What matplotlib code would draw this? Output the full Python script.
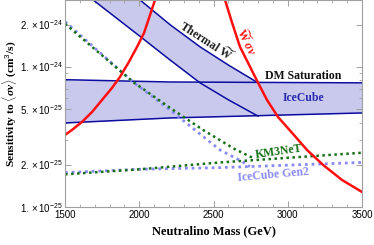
import numpy as np
import matplotlib
matplotlib.use('Agg')
import matplotlib.pyplot as plt
from matplotlib.ticker import FixedLocator, NullFormatter

plt.rcParams['mathtext.fontset'] = 'custom'
plt.rcParams['mathtext.rm'] = 'Liberation Sans'
plt.rcParams['mathtext.it'] = 'Liberation Serif:italic:bold'
plt.rcParams['mathtext.bf'] = 'Liberation Serif:bold'

# neutralino mass (GeV) vs sensitivity <sigma v> (cm^3/s)
ice_m = [1500, 2207, 3500]
ice_hi = [8.1e-25, 7.8e-25, 7.69e-25]
ice_lo = [3.98e-25, 4.32e-25, 4.69e-25]

th_m = [1500, 1689, 2005, 2207, 2409, 2600, 2800]
th_hi = [8.0e-24, 5.8e-24, 3.0e-24, 2.0e-24, 1.39e-24, 1.03e-24, 7.69e-25]
th_lo = [4.3e-24, 3.0e-24, 1.65e-24, 1.12e-24, 7.69e-25, 5.82e-25, 4.45e-25]

red1_m = [1500, 1547, 1614, 1682, 1749, 1816, 1870, 1931, 1985, 2032, 2066, 2106, 2126]
red1_v = [3.27e-25, 3.55e-25, 4.05e-25, 4.77e-25, 5.81e-25, 7.08e-25, 8.48e-25,
          1.09e-24, 1.39e-24, 1.75e-24, 2.24e-24, 3.01e-24, 3.55e-24]

red2_m = [2557, 2577, 2625, 2678, 2746, 2800, 2860, 2934, 3029, 3130, 3237, 3365, 3500]
red2_v = [3.55e-24, 3.01e-24, 2.06e-24, 1.39e-24, 1.0e-24, 7.69e-25, 5.81e-25,
          4.39e-25, 3.38e-25, 2.55e-25, 2.0e-25, 1.56e-25, 1.28e-25]

km3_dn_m = [1500, 1958, 2207, 2429, 2640, 2780]
km3_dn_v = [2.03e-24, 7.81e-25, 5.1e-25, 3.55e-25, 2.6e-25, 2.2e-25]
km3_up_m = [1500, 2005, 2544, 3500]
km3_up_v = [1.71e-25, 1.86e-25, 2.08e-25, 2.44e-25]

gen2_dn_m = [1500, 1958, 2207, 2544, 2690, 2745]
gen2_dn_v = [2.1e-24, 7.8e-25, 4.93e-25, 2.55e-25, 2.12e-25, 1.94e-25]
gen2_up_m = [1500, 2005, 2544, 3500]
gen2_up_v = [1.76e-25, 1.86e-25, 1.91e-25, 2.08e-25]

xticks = [1500, 2000, 2500, 3000, 3500]
yticks = [1e-25, 2e-25, 5e-25, 1e-24, 2e-24]
ylabels = [r'$1.\times10^{-25}$', r'$2.\times10^{-25}$', r'$5.\times10^{-25}$',
           r'$1.\times10^{-24}$', r'$2.\times10^{-24}$']

navy = '#0c0ca0'
fillc = '#c9c9ee'
red = '#ff1010'
green = '#167016'
lblue = '#8a8af5'

fig = plt.figure(figsize=(3.74, 2.45), dpi=100)
ax = fig.add_axes([0.174, 0.155, 0.794, 0.845])
ax.set_yscale('log')

# bands
ax.fill_between(ice_m, ice_lo, ice_hi, color=fillc, lw=0)
ax.fill_between(th_m, th_lo, th_hi, color=fillc, lw=0)
ax.plot(ice_m, ice_hi, color=navy, lw=1.1)
ax.plot(ice_m, ice_lo, color=navy, lw=1.1)
ax.plot(th_m, th_hi, color=navy, lw=1.1)
ax.plot(th_m, th_lo, color=navy, lw=1.1)

# projected sensitivities
dots = (0, (1, 1.4))
ax.plot(gen2_dn_m, gen2_dn_v, color=lblue, lw=2.0, ls=dots)
ax.plot(gen2_up_m, gen2_up_v, color=lblue, lw=2.0, ls=dots)
ax.plot(km3_dn_m, km3_dn_v, color=green, lw=1.8, ls=dots)
ax.plot(km3_up_m, km3_up_v, color=green, lw=1.8, ls=dots)

ax.plot(red1_m, red1_v, color=red, lw=1.8)
ax.plot(red2_m, red2_v, color=red, lw=1.8)

ax.set_xlim(1500, 3500)
ax.set_ylim(1e-25, 3.0e-24)

# labels on the curves
tfont = dict(family='Liberation Serif', weight='bold', fontsize=8.5)
ax.text(2456, 1.53e-24, r'Thermal $\widetilde{\mathbf{W}}$', rotation=-33,
        ha='center', va='center', color='#222222', **tfont)
ax.text(2719, 1.51e-24, r'$\widetilde{\mathbf{W}}\ \sigma v$', rotation=-64,
        ha='center', va='center', color=red, **tfont)
ax.text(3103, 8.6e-25, 'DM Saturation', ha='center', va='center',
        color='#111111', **tfont)
ax.text(3103, 6.0e-25, 'IceCube', ha='center', va='center', color='#2a2ab0', **tfont)
ax.text(2941, 2.47e-25, 'KM3NeT', rotation=8, ha='center', va='center',
        color=green, **tfont)
ax.text(2900, 1.69e-25, 'IceCube Gen2', rotation=5, ha='center', va='center',
        color=lblue, **tfont)

# frame and ticks
for s in ax.spines.values():
    s.set_color('#a0a0a0')
    s.set_linewidth(0.8)
ax.xaxis.set_major_locator(FixedLocator(xticks))
ax.xaxis.set_minor_locator(FixedLocator(np.arange(1500, 3501, 100)))
ax.yaxis.set_major_locator(FixedLocator(yticks))
ax.yaxis.set_minor_locator(FixedLocator([3e-25, 4e-25, 6e-25, 7e-25, 8e-25, 9e-25, 3e-24]))
ax.yaxis.set_minor_formatter(NullFormatter())
ax.set_xticklabels([str(t) for t in xticks], family='Liberation Sans', fontsize=7)
ax.set_yticklabels(ylabels, fontsize=7)
ax.tick_params(which='both', direction='in', color='#a0a0a0', top=True, right=True)
ax.tick_params(which='major', length=4, width=0.7, pad=2)
ax.tick_params(which='minor', length=2, width=0.6)

ax.set_xlabel('Neutralino Mass (GeV)', family='Liberation Serif', weight='bold',
              fontsize=9, labelpad=4)
ax.set_ylabel(r'Sensitivity to $\langle\sigma v\rangle$ (cm$^3$/s)',
              family='Liberation Serif', weight='bold', fontsize=8.2, va='center')
ax.yaxis.set_label_coords(-0.185, 0.5)

fig.savefig('out.png', dpi=100)
